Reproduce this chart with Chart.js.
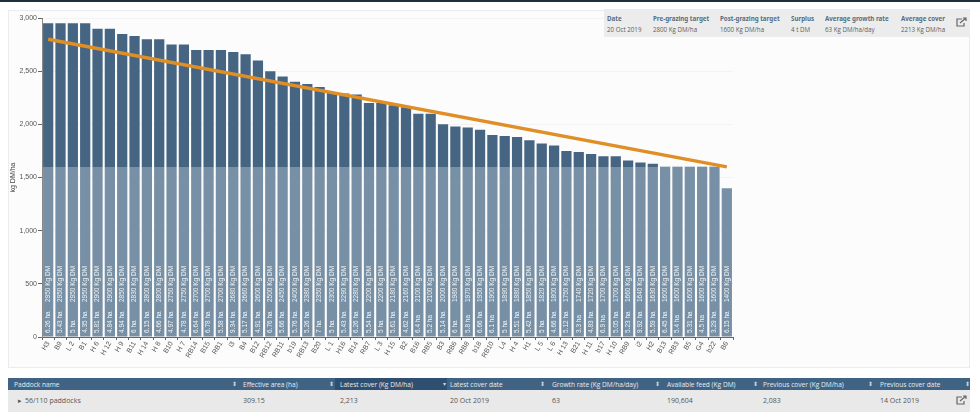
<!DOCTYPE html>
<html lang="en">
<head>
  <meta charset="UTF-8">
  <title>Paddock cover</title>
  <script src="https://cdn.jsdelivr.net/npm/chart.js"></script>
  <style>
    html, body { margin: 0; padding: 0; background: #fff; overflow: hidden; }
    body { width: 980px; height: 417px; position: relative; font-family: 'Open Sans', sans-serif; color: #555; border-top: 2px solid #20303c; box-sizing: border-box; }
    #panel { position: absolute; left: 8px; top: 8px; width: 962px; height: 358px; border: 1px solid #ececec; box-sizing: border-box; background: #fcfcfc; }
    #wrap { position: absolute; left: 0; top: -2px; width: 980px; height: 375px; }
    #summary { position: absolute; left: 604px; top: 7px; width: 366px; height: 28px; background: #ececec; font-size: 6.2px; }
    #summary span { position: absolute; white-space: nowrap; }
    #summary .h { top: 5px; font-weight: 700; color: #566c82; font-family: 'Noto Sans', sans-serif; font-size: 6.2px; }
    #summary .v { top: 16px; color: #5c5c5c; }
    #tbl { position: absolute; left: 8px; top: 376px; width: 962px; height: 34px; background: #e9e9e9; font-size: 6.6px; }
    #tbl .head { position: absolute; left: 0; top: 0; width: 100%; height: 12px; background: #406384; }
    #tbl .sorted { position: absolute; left: 327px; top: 0; width: 112px; height: 12px; background: #2e4f70; }
    #tbl span { position: absolute; white-space: nowrap; }
    #tbl .h { top: 2px; color: #e6edf3; }
    #tbl .s { top: 2px; color: #c9d6e2; font-size: 6px; }
    #tbl .v { top: 18px; color: #555; font-size: 7px; }
    svg.ext { position: absolute; }
  </style>
</head>
<body>
  <div id="panel"></div>
  <div id="wrap"><canvas id="cover"></canvas></div>
  <div id="summary"></div>
  <div id="tbl"><div class="head"></div><div class="sorted"></div></div>

  <script>
    const paddocks = ['H3','B9','L 2','B1','H 6','H 12','H 9','B11','H 14','H 8','B10','H 7','RB14','B15','RB1','i3','B4','B12','RB12','RB11','b19','RB13','B20','L 1','H16','B14','RB7','L 3','H 15','B2','B16','RB5','B3','RB6','RB8','b18','RB10','L4','H 4','H1','L 5','L 6','H 13','B21','H 11','b17','H 10','RB9','i2','H2','B13','RB3','B5','G4','b22','B6'];
    const cover = [2950,2950,2950,2950,2900,2900,2850,2830,2800,2800,2750,2750,2700,2700,2700,2680,2660,2600,2500,2450,2400,2380,2350,2300,2290,2280,2200,2200,2180,2160,2100,2100,2000,1980,1970,1950,1900,1890,1880,1850,1820,1800,1750,1740,1720,1700,1700,1660,1640,1630,1600,1600,1600,1600,1600,1400];
    const areas = [6.26,5.43,5,4.35,5.81,4.84,4.94,6,6.15,4.66,4.97,4.78,6.64,6.78,5.58,9.34,5.17,4.91,6.76,5.66,5.76,5.26,7,5,5.43,6.26,5.54,5,5.61,4.62,6.4,5.2,5.14,6,5.8,6.66,6.1,5,5.51,5.42,5,4.66,5.12,3.3,4.83,6.9,5.05,5.23,9.92,5.59,6.45,5.4,5.31,4.5,3.29,6.15];
    const preTarget = 2800;
    const postTarget = 1600;
    const yTicks = [0,500,1000,1500,2000,2500,3000];

    const summaryHeads = ['Date','Pre-grazing target','Post-grazing target','Surplus','Average growth rate','Average cover'];
    const summaryVals = ['20 Oct 2019','2800 Kg DM/ha','1600 Kg DM/ha','4 t DM','63 Kg DM/ha/day','2213 Kg DM/ha'];
    const summaryX = [3,49,116,187,221,297];

    const tableHeads = ['Paddock name','Effective area (ha)','Latest cover (Kg DM/ha)','Latest cover date','Growth rate (Kg DM/ha/day)','Available feed (Kg DM)','Previous cover (Kg DM/ha)','Previous cover date'];
    const tableVals = ['56/110 paddocks','309.15','2,213','20 Oct 2019','63','190,604','2,083','14 Oct 2019'];
    const tableX = [6,235,332,442,544,659,755,872];
    const sortX = [224,321,435,532,647,745,860,957];

    const extIcon = (x, y) => `<svg class="ext" style="left:${x}px;top:${y}px" width="11" height="10" viewBox="0 0 11 10" fill="none" stroke="#666" stroke-width="1.2"><path d="M6 2H1v7h7V6"/><path d="M4 6l6-5M7 1h3v3"/></svg>`;

    function span(cls, x, text) {
      return `<span class="${cls}" style="left:${x}px">${text}</span>`;
    }
    document.getElementById('summary').innerHTML =
      summaryHeads.map((t, i) => span('h', summaryX[i], t)).join('') +
      summaryVals.map((t, i) => span('v', summaryX[i], t)).join('') + extIcon(352, 8);
    document.getElementById('tbl').innerHTML +=
      tableHeads.map((t, i) => span('h', tableX[i], t)).join('') +
      sortX.map((x, i) => span('s', x, i === 2 ? '▾' : '⬍')).join('') +
      tableVals.map((t, i) => span('v', tableX[i] + (i === 0 ? 11 : 0), t)).join('') +
      span('v', 10, '▸') + extIcon(948, 17);

    // bars go lighter below the post-grazing target, hard stop on the y scale
    function barFill(ctx) {
      const { chart } = ctx;
      if (!chart.chartArea) return '#466583';
      const y = chart.scales.y;
      const stop = y.getPixelForValue(postTarget);
      const g = chart.ctx.createLinearGradient(0, y.top, 0, y.bottom);
      const t = (stop - y.top) / (y.bottom - y.top);
      g.addColorStop(0, '#466583');
      g.addColorStop(t, '#466583');
      g.addColorStop(t, '#7790a5');
      g.addColorStop(1, '#7790a5');
      return g;
    }

    const barLabels = {
      id: 'barLabels',
      afterDatasetsDraw(chart) {
        const { ctx } = chart;
        const bars = chart.getDatasetMeta(1).data;
        const base = chart.scales.y.bottom;
        ctx.save();
        ctx.fillStyle = '#f2f5f7';
        ctx.font = '6.5px "Liberation Sans", sans-serif';
        ctx.textBaseline = 'middle';
        ctx.textAlign = 'left';
        bars.forEach((bar, i) => {
          ctx.save();
          ctx.translate(bar.x, base - 4);
          ctx.rotate(-Math.PI / 2);
          ctx.fillText(areas[i] + ' ha', 0, 0);
          ctx.fillText(cover[i] + ' Kg DM', 31, 0);
          ctx.restore();
        });
        ctx.restore();
      }
    };

    new Chart(document.getElementById('cover'), {
      data: {
        labels: paddocks,
        datasets: [
          {
            type: 'line',
            data: [
              { x: paddocks[0], y: preTarget },
              { x: paddocks[paddocks.length - 1], y: postTarget }
            ],
            borderColor: '#e08e26',
            borderWidth: 3.5,
            pointRadius: 0,
            order: 0
          },
          {
            type: 'bar',
            data: cover,
            backgroundColor: barFill,
            barPercentage: 0.83,
            categoryPercentage: 1,
            order: 1
          }
        ]
      },
      options: {
        responsive: true,
        maintainAspectRatio: false,
        animation: false,
        layout: { padding: { top: 18, right: 247, left: 9, bottom: 0 } },
        plugins: { legend: { display: false }, tooltip: { enabled: false } },
        scales: {
          x: {
            grid: { drawOnChartArea: false, tickColor: '#666', tickLength: 3 },
            border: { color: '#666' },
            ticks: {
              color: '#555',
              font: { size: 7, family: 'Liberation Sans' },
              maxRotation: 60,
              minRotation: 60,
              autoSkip: false,
              padding: 0
            },
            afterFit(scale) { scale.height = 38; }
          },
          y: {
            min: 0,
            max: 3000,
            grid: { color: '#f3f3f3', tickColor: '#666', tickLength: 4 },
            border: { color: '#888', width: 1 },
            afterBuildTicks(scale) { scale.ticks = yTicks.map(v => ({ value: v })); },
            ticks: {
              color: '#555',
              font: { size: 7, family: 'Liberation Sans' },
              padding: 1,
              callback: v => v.toLocaleString('en-US')
            },
            title: {
              display: true,
              text: 'kg DM/ha',
              color: '#444',
              font: { size: 7, family: 'Liberation Sans' },
              padding: 0
            },
            afterFit(scale) { scale.width = 33; }
          }
        }
      },
      plugins: [barLabels]
    });
  </script>
</body>
</html>
